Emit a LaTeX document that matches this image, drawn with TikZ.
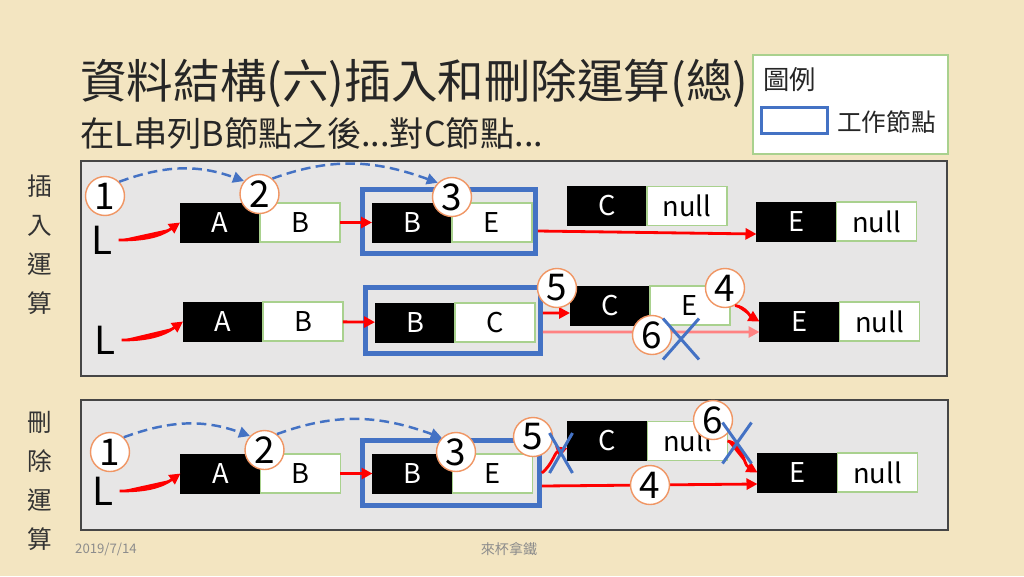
\documentclass[tikz,border=0pt]{standalone}
\usepackage{fontspec}
\setmainfont{Noto Sans CJK TC}
\usetikzlibrary{arrows.meta,positioning,shapes.misc}
\definecolor{parchment}{RGB}{243,229,193}
\definecolor{panelgrey}{RGB}{231,230,230}
\definecolor{panelline}{RGB}{70,70,70}
\definecolor{linkgreen}{RGB}{169,209,142}
\definecolor{workblue}{RGB}{68,114,196}
\definecolor{linkred}{RGB}{255,0,0}
\definecolor{linkpink}{RGB}{255,130,130}
\definecolor{ringorange}{RGB}{240,150,100}
\definecolor{footgrey}{RGB}{140,140,140}
\tikzset{
  >={Triangle[length=2.2mm,width=2.2mm]},
  redlink/.style={->, line width=1.6pt, draw=linkred, fill=linkred},
  pinklink/.style={->, line width=1.6pt, draw=linkpink, fill=linkpink},
  hop/.style={->, line width=1.4pt, draw=workblue, dash pattern=on 5.5pt off 3pt},
  datacell/.style={
    draw=black, fill=black, text=white,
    minimum width=1.6cm, minimum height=0.78cm,
    inner sep=0pt, outer sep=0pt,
    font=\fontsize{15.5}{18}\selectfont
  },
  linkcell/.style={datacell, draw=linkgreen, fill=white, text=black, line width=0.8pt},
  workframe/.style={draw=workblue, line width=2.8pt, inner sep=0pt},
  stepnum/.style={
    circle, draw=ringorange, fill=white, line width=0.8pt,
    minimum size=0.78cm, inner sep=0pt,
    font=\fontsize{21}{24}\selectfont
  },
  crossmark/.style={cross out, draw=workblue, line width=1.7pt, inner sep=0pt},
  lettertext/.style={font=\fontsize{22}{24}\selectfont},
  panel/.style={draw=panelline, fill=panelgrey, line width=0.9pt},
  sidetext/.style={align=center, text=black!80, font=\fontsize{14}{22.1}\selectfont},
  titletext/.style={anchor=west, inner sep=0pt, text=black!85}
}
\begin{document}
\begin{tikzpicture}[x=0.02cm,y=-0.02cm]
  \useasboundingbox (0,0) rectangle (1024,576);
  \fill[parchment] (0,0) rectangle (1024,576);

  % heading
  \node[titletext,font=\fontsize{26.5}{30}\selectfont] (title) at (80,83) {資料結構(六)插入和刪除運算(總)};
  \node[titletext,font=\fontsize{19.5}{22}\selectfont] (subtitle) at (80,133) {在L串列B節點之後...對C節點...};

  % legend
  \node[draw=linkgreen, fill=white, line width=0.8pt, minimum width=3.9cm, minimum height=1.98cm] (legend) at (850.5,104.5) {};
  \node[titletext,font=\fontsize{15}{18}\selectfont] (legendhead) at (763,80) {圖例};
  \node[workframe, line width=1.6pt, minimum width=1.32cm, minimum height=0.52cm] (legendkey) at (794.5,120.5) {};
  \node[titletext,font=\fontsize{14}{17}\selectfont] (legendlabel) at (837,122) {工作節點};

  % side labels
  \node[sidetext] (inslabel) at (40,244.5) {插\\入\\運\\算};
  \node[sidetext] (dellabel) at (40,481) {刪\\除\\運\\算};

  % panels
  \draw[panel] (81,161) rectangle (947,376);
  \draw[panel] (81,400) rectangle (948,530);

  % insert: before
  \node[lettertext] (L1) at (102,240) {L};
  \node[datacell] (a1) at (220,222.5) {A};
  \node[linkcell, right=0pt of a1] (b1) {B};
  \node[workframe, minimum width=3.46cm, minimum height=1.28cm] (w1) at (449,221.5) {};
  \node[datacell] (bb1) at (412,222.5) {B};
  \node[linkcell, right=0pt of bb1] (e1) {E};
  \node[datacell] (c1) at (607,206) {C};
  \node[linkcell, right=0pt of c1] (cn1) {null};
  \node[datacell] (ee1) at (796.5,221.5) {E};
  \node[linkcell, right=0pt of ee1] (en1) {null};
  \draw[redlink] (L1.east) to[out=0,in=215] (a1.west);
  \draw[redlink] (b1) -- (bb1);
  \draw[redlink] ([yshift=-0.19cm]w1.east) -- ([yshift=-0.25cm]ee1.west);
  \node[stepnum] (s1a) at (105,196) {1};
  \node[stepnum] (s2a) at (259.5,194) {2};
  \node[stepnum] (s3a) at (452,197) {3};
  \draw[hop] (s1a.45) to[out=20,in=160] (s2a.140);
  \draw[hop] (s2a.50) to[out=20,in=160] (s3a.135);

  % insert: after
  \node[lettertext] (L2) at (105,340) {L};
  \node[datacell] (a2) at (223,321.5) {A};
  \node[linkcell, right=0pt of a2] (b2) {B};
  \node[workframe, minimum width=3.5cm, minimum height=1.32cm] (w2) at (453,320.5) {};
  \node[datacell] (bb2) at (415,322.5) {B};
  \node[linkcell, right=0pt of bb2] (c2) {C};
  \node[datacell] (cc2) at (610,305.5) {C};
  \node[linkcell, right=0pt of cc2] (ce2) {E};
  \node[datacell] (ee2) at (799.5,321.5) {E};
  \node[linkcell, right=0pt of ee2] (en2) {null};
  \draw[redlink] (L2.east) to[out=0,in=215] (a2.west);
  \draw[redlink] (b2) -- (bb2);
  \draw[redlink] ([yshift=0.15cm]w2.east) -- ([yshift=-0.15cm]cc2.west);
  \draw[pinklink] ([yshift=-0.23cm]w2.east) -- ([yshift=-0.21cm]ee2.west);
  \node[stepnum] (s5b) at (557,288) {5};
  \node[stepnum] (s4b) at (725,288) {4};
  \node[stepnum] (s6b) at (652,335) {6};
  \draw[redlink] (s4b.-60) to[out=-10,in=150] (ee2.west);
  \node[crossmark, minimum width=0.66cm, minimum height=0.76cm] (x6b) at (681,339) {};

  % delete
  \node[lettertext] (L3) at (103,491) {L};
  \node[datacell] (a3) at (220.5,473.5) {A};
  \node[linkcell, right=0pt of a3] (b3) {B};
  \node[workframe, minimum width=3.54cm, minimum height=1.3cm] (w3) at (451,473) {};
  \node[datacell] (bb3) at (412.5,473.5) {B};
  \node[linkcell, right=0pt of bb3] (e3) {E};
  \node[datacell] (c3) at (607.5,441) {C};
  \node[linkcell, right=0pt of c3] (cn3) {null};
  \node[datacell] (ee3) at (797.5,472.5) {E};
  \node[linkcell, right=0pt of ee3] (en3) {null};
  \draw[redlink] (L3.east) to[out=0,in=215] (a3.west);
  \draw[redlink] (b3) -- (bb3);
  \draw[redlink] (w3.east) to[out=40,in=200] ([yshift=-0.14cm]c3.west);
  \draw[redlink] (cn3.east) to[out=-10,in=150] (ee3.west);
  \draw[redlink] ([yshift=-0.26cm]w3.east) -- ([yshift=-0.23cm]ee3.west);
  \node[stepnum] (s1c) at (110,452) {1};
  \node[stepnum] (s2c) at (264.5,450) {2};
  \node[stepnum] (s3c) at (456,452) {3};
  \node[stepnum] (s5c) at (533,437) {5};
  \node[stepnum] (s6c) at (713,420) {6};
  \node[stepnum] (s4c) at (650,485) {4};
  \draw[hop] (s1c.47) to[out=20,in=160] (s2c.136);
  \draw[hop] (s2c.52) to[out=20,in=160] (s3c.135);
  \node[crossmark, minimum width=0.4cm, minimum height=0.74cm] (x5c) at (561,453) {};
  \node[crossmark, minimum width=0.52cm, minimum height=0.76cm] (x6c) at (737,443) {};

  % footer
  \node[text=footgrey, font=\fontsize{7.5}{9}\selectfont] (date) at (106,549) {2019/7/14};
  \node[text=footgrey, font=\fontsize{8}{9}\selectfont] (author) at (509,549) {來杯拿鐵};
\end{tikzpicture}
\end{document}
